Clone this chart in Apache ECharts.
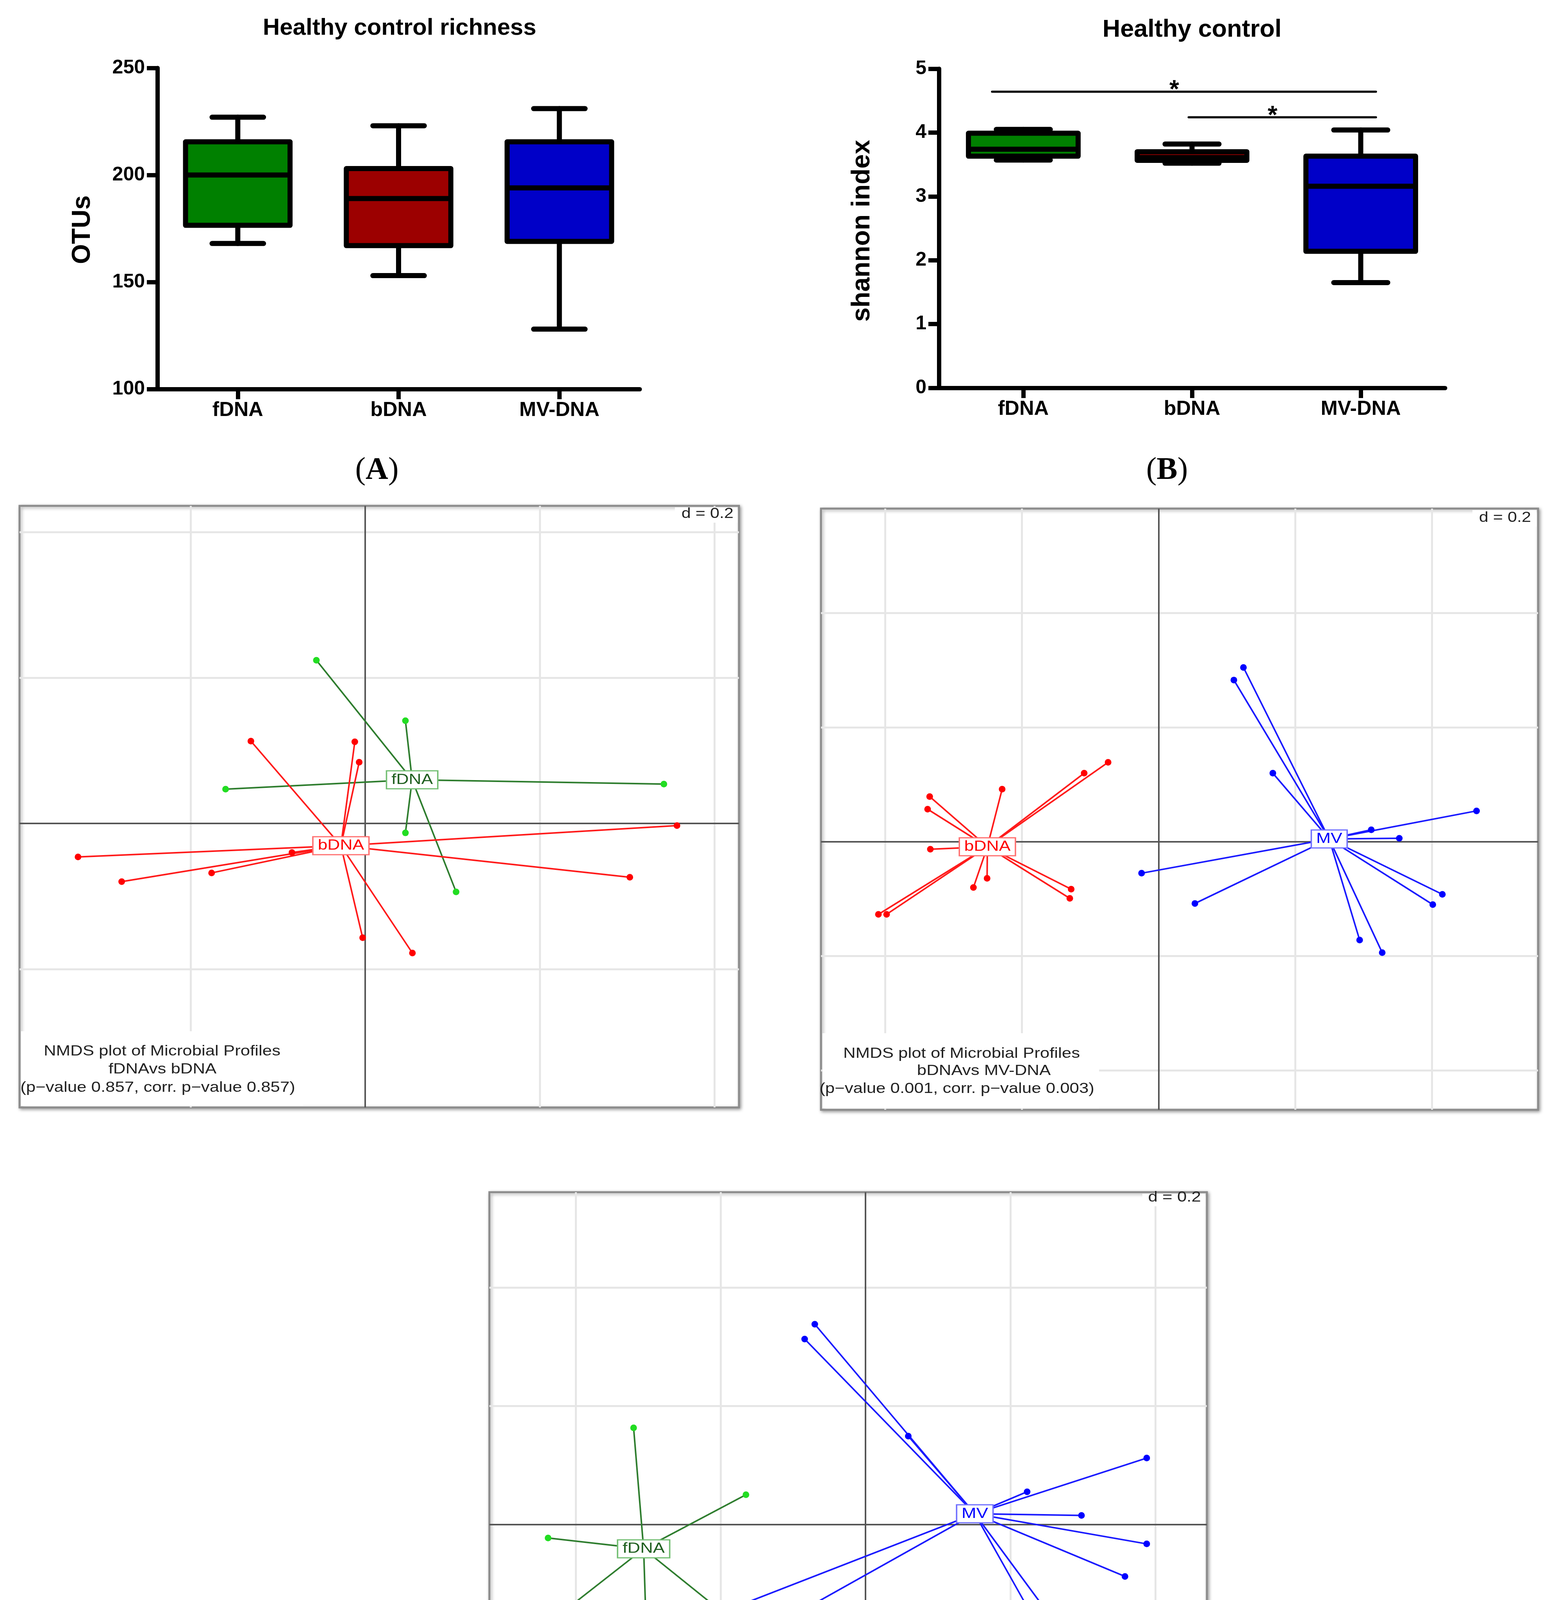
<!DOCTYPE html>
<html>
<head>
<meta charset="utf-8">
<script src="https://cdn.jsdelivr.net/npm/echarts@6/dist/echarts.min.js"></script>
<style>
html,body{margin:0;padding:0;background:#fff;}
#main{width:3966px;height:4724px;}
</style>
</head>
<body>
<div id="main"></div>
<script>
// ================= DATA =================
const categories = ['fDNA', 'bDNA', 'MV-DNA'];

// box plots: [min, Q1, median, Q3, max]
const richnessOTUs = [
  [168, 176.5, 200, 215.5, 227],
  [153, 167, 189, 203, 223],
  [128, 169, 194, 215.5, 231]
];
const shannonIndex = [
  [3.57, 3.63, 3.74, 3.99, 4.05],
  [3.52, 3.565, 3.61, 3.70, 3.82],
  [1.65, 2.14, 3.16, 3.63, 4.04]
];
// significance brackets: [from category, to category, height, mark]
const shannonSignificance = [
  [0, 2, 4.64, '*'],
  [1, 2, 4.24, '*']
];

// NMDS sample coordinates (NMDS1, NMDS2)
const nmdsC1_fDNA = [[-0.056,0.224],[0.046,0.141],[-0.160,0.047],[0.342,0.054],[0.046,-0.013],[0.104,-0.094]];
const nmdsC1_bDNA = [[-0.131,0.113],[-0.012,0.112],[-0.007,0.084],[-0.329,-0.046],[-0.279,-0.080],[-0.176,-0.068],
                     [-0.084,-0.040],[0.357,-0.003],[0.303,-0.074],[-0.003,-0.157],[0.054,-0.178]];
const nmdsC2_bDNA = [[-0.074,0.139],[-0.109,0.120],[-0.229,0.092],[-0.335,0.079],[-0.338,0.057],[-0.334,-0.013],
                     [-0.251,-0.064],[-0.271,-0.080],[-0.128,-0.083],[-0.130,-0.099],[-0.410,-0.127],[-0.398,-0.127]];
const nmdsC2_MV   = [[0.124,0.305],[0.110,0.283],[0.167,0.120],[0.465,0.054],[0.311,0.021],[0.352,0.006],
                     [-0.025,-0.055],[0.053,-0.108],[0.415,-0.092],[0.401,-0.110],[0.294,-0.172],[0.327,-0.194]];
const nmdsC3_fDNA = [[-0.320,0.163],[-0.165,0.050],[-0.438,-0.023],[-0.405,-0.136],[-0.303,-0.162],[-0.206,-0.140]];
const nmdsC3_MV   = [[-0.070,0.338],[-0.084,0.313],[0.059,0.149],[0.388,0.112],[0.223,0.055],[0.298,0.015],
                     [0.388,-0.033],[0.358,-0.088],[0.233,-0.161],[0.282,-0.200],[-0.168,-0.134],[-0.097,-0.152]];

const captionC1 = ['NMDS plot of Microbial Profiles', 'fDNAvs bDNA', '(p\u2212value 0.857, corr. p\u2212value 0.857)'];
const captionC2 = ['NMDS plot of Microbial Profiles', 'bDNAvs MV-DNA', '(p\u2212value 0.001, corr. p\u2212value 0.003)'];
const captionC3 = ['NMDS plot of Microbial Profiles', 'fDNAvs MV-DNA', '(p\u2212value 0.002, corr. p\u2212value 0.003)'];
const gridStepLabel = 'd = 0.2';
const gridStep = 0.2;

// ================= STYLE / LAYOUT =================
const FONT = '"Liberation Sans", Arial, "DejaVu Sans", sans-serif';
const SERIF = '"Liberation Serif", "Times New Roman", serif';
const BOX_FILLS = ['#008000', '#9c0000', '#0000c8'];
const LW = 13, BOX_W = 0.65, CAP_W = 0.32;
const SIG_START = [-0.185, -0.02], SIG_END = 0.09;

const GREEN = {line:'#2e7d2e', pt:'#22dd22', text:'#1f5f1f', border:'#74bf74'};
const RED   = {line:'#ff1a1a', pt:'#ff0000', text:'#ff0000', border:'#ff7070'};
const BLUE  = {line:'#1a1aff', pt:'#0000ff', text:'#0000ff', border:'#7070ff'};

const nmdsPanels = [
  {grid:{left:50, top:1295, width:1842, height:1540}, xr:[-0.396,0.428], yr:[-0.390,0.436], sx:1.2,
   groups:[{name:'fDNA', pts:nmdsC1_fDNA, c:GREEN}, {name:'bDNA', pts:nmdsC1_bDNA, c:RED}],
   caption:captionC1, capX:[415,416,404], capY:[2692,2738,2785], capRight:776, capTop:2640,
   dRight:1878, dY:1316},
  {grid:{left:2102, top:1302, width:1836, height:1539}, xr:[-0.494,0.555], yr:[-0.469,0.583], sx:1.2,
   groups:[{name:'bDNA', pts:nmdsC2_bDNA, c:RED}, {name:'MV', pts:nmdsC2_MV, c:BLUE}],
   caption:captionC2, capX:[2462,2519,2450], capY:[2698,2742,2788], capRight:2814, capTop:2645,
   dRight:3920, dY:1326},
  {grid:{left:1253, top:3052, width:1837, height:1493}, xr:[-0.519,0.471], yr:[-0.424,0.561], sx:1.22,
   groups:[{name:'fDNA', pts:nmdsC3_fDNA, c:GREEN}, {name:'MV', pts:nmdsC3_MV, c:BLUE}],
   caption:captionC3, capX:[1615,1667,1605], capY:[4404,4446,4489], capRight:1966, capTop:4350,
   dRight:3075, dY:3066}
];

// ================= BUILD =================
function boxRenderer(fills) {
  return function (params, api) {
    const i = api.value(0);
    const band = api.size([1, 0])[0];
    const cx = api.coord([i, api.value(3)])[0];
    const y = k => api.coord([i, api.value(k)])[1];
    const yMin = y(1), yQ1 = y(2), yMed = y(3), yQ3 = y(4), yMax = y(5);
    const bw = band * BOX_W, cw = band * CAP_W;
    const st = {stroke:'#000', lineWidth:LW, lineCap:'round', lineJoin:'round'};
    return {type:'group', children:[
      {type:'line', shape:{x1:cx, y1:yMax, x2:cx, y2:yQ3}, style:st},
      {type:'line', shape:{x1:cx, y1:yQ1, x2:cx, y2:yMin}, style:st},
      {type:'line', shape:{x1:cx-cw/2, y1:yMax, x2:cx+cw/2, y2:yMax}, style:st},
      {type:'line', shape:{x1:cx-cw/2, y1:yMin, x2:cx+cw/2, y2:yMin}, style:st},
      {type:'rect', shape:{x:cx-bw/2, y:yQ3, width:bw, height:yQ1-yQ3},
       style:{fill:fills[params.dataIndex], stroke:'#000', lineWidth:LW, lineJoin:'round'}},
      {type:'line', shape:{x1:cx-bw/2, y1:yMed, x2:cx+bw/2, y2:yMed}, style:{stroke:'#000', lineWidth:LW}}
    ]};
  };
}

function catAxis(gridIndex) {
  return {type:'category', gridIndex, data:categories, boundaryGap:true,
    axisLine:{show:true, onZero:false, lineStyle:{color:'#000', width:11}},
    axisTick:{show:true, alignWithLabel:true, length:26, lineStyle:{color:'#000', width:11}},
    axisLabel:{color:'#000', fontSize:52, fontWeight:'bold', fontFamily:FONT, margin:29},
    splitLine:{show:false}};
}
function valAxis(gridIndex, min, max, interval) {
  return {type:'value', gridIndex, min, max, interval,
    axisLine:{show:true, lineStyle:{color:'#000', width:11}},
    axisTick:{show:true, length:27, lineStyle:{color:'#000', width:11}},
    axisLabel:{color:'#000', fontSize:50, fontWeight:'bold', fontFamily:FONT, margin:32},
    splitLine:{show:false}};
}

const grids = [
  {left:403, top:174, width:1235, height:822},
  {left:2404, top:176, width:1296, height:817}
];
const xAxes = [catAxis(0), catAxis(1)];
const yAxes = [valAxis(0, 100, 250, 50), valAxis(1, 0, 5, 1)];
const series = [
  {type:'custom', xAxisIndex:0, yAxisIndex:0, renderItem:boxRenderer(BOX_FILLS),
   encode:{x:0, y:[1,2,3,4,5]}, data:richnessOTUs.map((v,i)=>[i].concat(v)), z:3},
  {type:'custom', xAxisIndex:1, yAxisIndex:1, renderItem:boxRenderer(BOX_FILLS),
   encode:{x:0, y:[1,2,3,4,5]}, data:shannonIndex.map((v,i)=>[i].concat(v)), z:3},
  {type:'custom', xAxisIndex:1, yAxisIndex:1, encode:{x:0, y:2},
   data:shannonSignificance,
   renderItem:function (params, api) {
     const band = api.size([1, 0])[0];
     const i = params.dataIndex;
     const yv = api.value(2);
     const p1 = api.coord([api.value(0), yv]);
     const p2 = api.coord([api.value(1), yv]);
     const x1 = p1[0] + SIG_START[i]*band, x2 = p2[0] + SIG_END*band;
     return {type:'group', children:[
       {type:'line', shape:{x1:x1, y1:p1[1], x2:x2, y2:p1[1]}, style:{stroke:'#000', lineWidth:5.5, lineCap:'round'}},
       {type:'text', x:(x1+x2)/2 - 25, y:p1[1] - 2,
        style:{text:shannonSignificance[i][3], align:'center', verticalAlign:'middle',
               fontSize:64, fontWeight:'bold', fontFamily:FONT, fill:'#000'}}
     ]};
   }, z:3}
];

const graphics = [
  {type:'text', x:1023, y:72, style:{text:'Healthy control richness', fontSize:60, fontWeight:'bold', fontFamily:FONT, fill:'#000', align:'center', verticalAlign:'middle'}},
  {type:'text', x:3052, y:77, style:{text:'Healthy control', fontSize:63, fontWeight:'bold', fontFamily:FONT, fill:'#000', align:'center', verticalAlign:'middle'}},
  {type:'text', x:212, y:588, rotation:Math.PI/2, style:{text:'OTUs', fontSize:66, fontWeight:'bold', fontFamily:FONT, fill:'#000', align:'center', verticalAlign:'middle'}},
  {type:'text', x:2208, y:591, rotation:Math.PI/2, style:{text:'shannon index', fontSize:66, fontWeight:'bold', fontFamily:FONT, fill:'#000', align:'center', verticalAlign:'middle'}}
];
[['A',965,1205],['B',2988,1205],['C',1995,4649]].forEach(function (p) {
  graphics.push({type:'text', x:p[1], y:p[2], style:{
    text:'{r|(}{b|' + p[0] + '}{r|)}', align:'center', verticalAlign:'middle',
    rich:{r:{fontFamily:SERIF, fontSize:80, fill:'#000'}, b:{fontFamily:SERIF, fontSize:80, fontWeight:'bold', fill:'#000'}}}});
});

function mean(pts, k) { return pts.reduce((s,p)=>s+p[k],0)/pts.length; }

nmdsPanels.forEach(function (P, k) {
  const gi = k + 2;
  grids.push(Object.assign({show:true, backgroundColor:'#fff', borderColor:'#8c8c8c', borderWidth:5,
    shadowColor:'rgba(0,0,0,0.35)', shadowBlur:8, shadowOffsetX:3, shadowOffsetY:3}, P.grid));
  xAxes.push({type:'value', gridIndex:gi, min:P.xr[0], max:P.xr[1], show:false});
  yAxes.push({type:'value', gridIndex:gi, min:P.yr[0], max:P.yr[1], show:false});

  const ml = [];
  for (let i = Math.ceil(P.xr[0]/gridStep); i <= Math.floor(P.xr[1]/gridStep); i++) {
    if (i !== 0) ml.push({xAxis:i*gridStep, lineStyle:{color:'#e6e6e6', width:5, type:'solid'}});
  }
  for (let i = Math.ceil(P.yr[0]/gridStep); i <= Math.floor(P.yr[1]/gridStep); i++) {
    if (i !== 0) ml.push({yAxis:i*gridStep, lineStyle:{color:'#e6e6e6', width:5, type:'solid'}});
  }
  ml.push({xAxis:0, lineStyle:{color:'#555', width:4, type:'solid'}});
  ml.push({yAxis:0, lineStyle:{color:'#555', width:4, type:'solid'}});
  series.push({type:'scatter', xAxisIndex:gi, yAxisIndex:gi, data:[[0,0]], symbolSize:0, silent:true, z:1,
    markLine:{z:1, silent:true, symbol:['none','none'], label:{show:false}, animation:false, data:ml}});

  P.groups.forEach(function (g) {
    const c = [mean(g.pts,0), mean(g.pts,1)];
    series.push({type:'lines', coordinateSystem:'cartesian2d', xAxisIndex:gi, yAxisIndex:gi, z:3, silent:true,
      lineStyle:{color:g.c.line, width:4, opacity:1, curveness:0},
      data:g.pts.map(p=>({coords:[c, p]}))});
    series.push({type:'scatter', xAxisIndex:gi, yAxisIndex:gi, z:4, silent:true, symbolSize:17,
      itemStyle:{color:g.c.pt, opacity:1}, data:g.pts});
  });
  P.groups.forEach(function (g) {
    const c = [mean(g.pts,0), mean(g.pts,1)];
    series.push({type:'custom', xAxisIndex:gi, yAxisIndex:gi, z:6, silent:true, data:[c],
      encode:{x:0, y:1},
      renderItem:function (params, api) {
        const p = api.coord([api.value(0), api.value(1)]);
        return {type:'text', x:p[0], y:p[1], scaleX:P.sx, style:{text:g.name, x:0, y:0,
          align:'center', verticalAlign:'middle', fontFamily:FONT, fontSize:37, fill:g.c.text,
          backgroundColor:'#fff', borderColor:g.c.border, borderWidth:3, padding:[4,9,2,9]}};
      }});
  });

  // caption background + text
  const gl = P.grid.left, gt = P.grid.top, gr = P.grid.left + P.grid.width, gb = P.grid.top + P.grid.height;
  graphics.push({type:'rect', z:2, shape:{x:gl+4, y:P.capTop, width:P.capRight-gl-4, height:gb-4-P.capTop},
    style:{fill:'#fff'}});
  P.caption.forEach(function (t, j) {
    graphics.push({type:'text', z:5, x:P.capX[j], y:P.capY[j], scaleX:P.sx,
      style:{text:t, fontFamily:FONT, fontSize:36.5, fill:'#222', align:'center', verticalAlign:'middle'}});
  });
  graphics.push({type:'rect', z:2, shape:{x:P.dRight-150, y:gt+4, width:gr-4-(P.dRight-150), height:P.dY+22-gt-4},
    style:{fill:'#fff'}});
  graphics.push({type:'text', z:5, x:P.dRight, y:P.dY, scaleX:P.sx,
    style:{text:gridStepLabel, fontFamily:FONT, fontSize:36, fill:'#222', align:'right', verticalAlign:'middle'}});
});

const chart = echarts.init(document.getElementById('main'), null, {renderer:'canvas', width:3966, height:4724});
chart.setOption({
  animation:false,
  backgroundColor:'#fff',
  grid:grids,
  xAxis:xAxes,
  yAxis:yAxes,
  series:series,
  graphic:graphics
});
</script>
</body>
</html>
